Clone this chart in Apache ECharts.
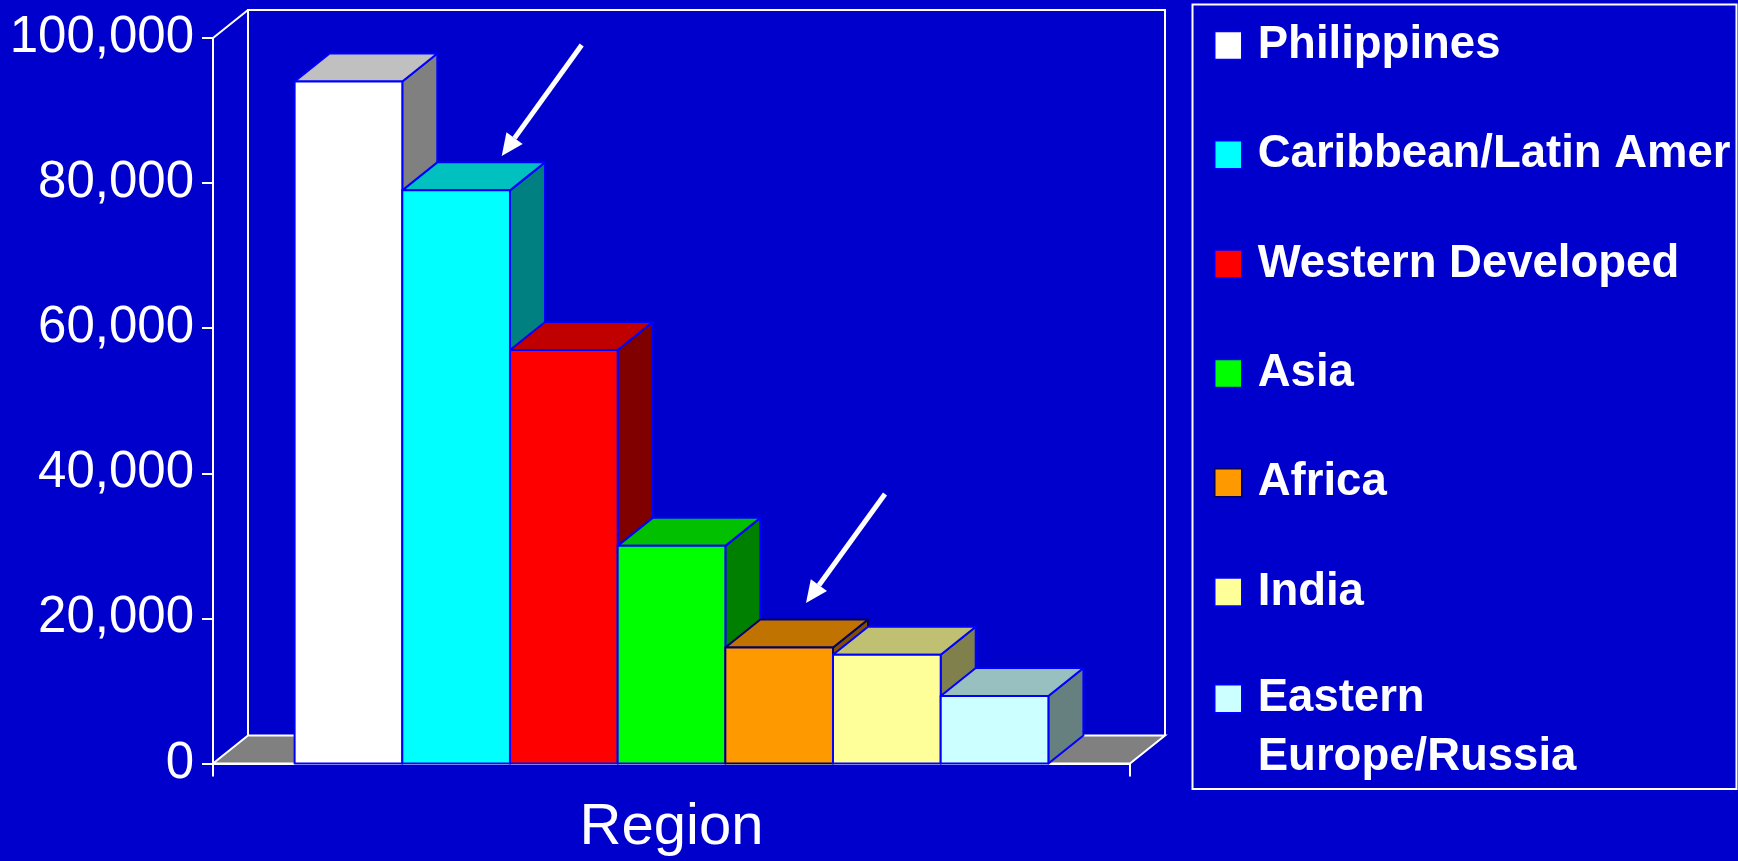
<!DOCTYPE html>
<html>
<head>
<meta charset="utf-8">
<script src="https://cdn.jsdelivr.net/npm/echarts@6/dist/echarts.min.js"></script>
<style>
html,body{margin:0;padding:0;background:#0000CC;}
#chart{width:1738px;height:861px;}
</style>
</head>
<body>
<div id="chart"></div>
<script>
// ---- data ----
const categories = ['Region'];
const regionNames = ['Philippines', 'Caribbean/Latin Amer', 'Western Developed', 'Asia', 'Africa', 'India', 'Eastern Europe/Russia'];
const regionValues = [94000, 79000, 57000, 30000, 16000, 15000, 9300];
const yTickValues = [0, 20000, 40000, 60000, 80000, 100000];

// ---- styles ----
const frontColors = ['#FFFFFF', '#00FFFF', '#FF0000', '#00FF00', '#FF9900', '#FFFF99', '#CCFFFF'];
const topColors   = ['#C0C0C0', '#00C0C0', '#C00000', '#00C000', '#C07300', '#C0C073', '#99C0C0'];
const sideColors  = ['#808080', '#008080', '#800000', '#008000', '#805000', '#80804D', '#668080'];
const edgeColors  = ['#0000FF', '#0000FF', '#0000FF', '#0000FF', '#000066', '#0000FF', '#0000FF'];

const DX = 35, DY = 28, CAT_GAP = 0.178;
const Y_MIN = yTickValues[0];
const Y_MAX = yTickValues[yTickValues.length - 1];
const Y_STEP = yTickValues[1] - yTickValues[0];
const BG = '#0000CC';

function makeBarRender(i) {
  return function (params, api) {
    const cat = api.value(0), val = api.value(1);
    const base = api.coord([cat, Y_MIN]);
    const top = api.coord([cat, val]);
    const band = api.size([1, 0])[0];
    const groupW = band * (1 - CAT_GAP);
    const barW = groupW / regionNames.length;
    const x0 = base[0] - groupW / 2 + i * barW, x1 = x0 + barW;
    const yb = base[1], yt = top[1];
    const edge = { stroke: edgeColors[i], lineWidth: 2, lineJoin: 'round' };
    return {
      type: 'group',
      children: [
        { type: 'polygon', shape: { points: [[x1, yt], [x1 + DX, yt - DY], [x1 + DX, yb - DY], [x1, yb]] },
          style: Object.assign({ fill: sideColors[i] }, edge) },
        { type: 'polygon', shape: { points: [[x0, yt], [x0 + DX, yt - DY], [x1 + DX, yt - DY], [x1, yt]] },
          style: Object.assign({ fill: topColors[i] }, edge) },
        { type: 'rect', shape: { x: x0, y: yt, width: barW, height: yb - yt },
          style: Object.assign({ fill: frontColors[i] }, edge) }
      ]
    };
  };
}

function renderFrame(params, api) {
  const cat = api.value(0);
  const b = api.coord([cat, Y_MIN]);
  const t = api.coord([cat, Y_MAX]);
  const band = api.size([1, 0])[0];
  const xl = b[0] - band / 2, xr = b[0] + band / 2, yb = b[1], yt = t[1];
  const white = { stroke: '#FFFFFF', lineWidth: 2, fill: null };
  return {
    type: 'group',
    children: [
      { type: 'polygon', shape: { points: [[xl, yb], [xl + DX, yb - DY], [xr + DX, yb - DY], [xr, yb]] },
        style: { fill: '#808080', stroke: '#FFFFFF', lineWidth: 2 } },
      { type: 'polyline', shape: { points: [[xl + DX, yb - DY], [xl + DX, yt - DY], [xr + DX, yt - DY], [xr + DX, yb - DY]] },
        style: white },
      { type: 'line', shape: { x1: xl, y1: yt, x2: xl + DX, y2: yt - DY }, style: white }
    ]
  };
}

function arrow(tail, tip) {
  const ang = Math.atan2(tip[1] - tail[1], tip[0] - tail[0]);
  const L = 22, W = 10;
  const bx = tip[0] - L * Math.cos(ang), by = tip[1] - L * Math.sin(ang);
  const px = -Math.sin(ang) * W, py = Math.cos(ang) * W;
  return {
    type: 'group', silent: true,
    children: [
      { type: 'line', shape: { x1: tail[0], y1: tail[1], x2: bx, y2: by }, style: { stroke: '#FFFFFF', lineWidth: 5 } },
      { type: 'polygon', shape: { points: [[tip[0], tip[1]], [bx + px, by + py], [bx - px, by - py]] }, style: { fill: '#FFFFFF' } }
    ]
  };
}

const legendText = {
  color: '#FFFFFF',
  fontFamily: "'Liberation Sans', Arial, sans-serif",
  fontWeight: 'bold',
  fontSize: 45.5,
  lineHeight: 59,
  padding: [10, 0, 0, 11]
};
const legendItem = (n) => {
  const i = regionNames.indexOf(n);
  return { name: n, itemStyle: { color: frontColors[i], borderColor: edgeColors[i], borderWidth: 1.5 } };
};

const series = [{
  type: 'custom', name: '_frame', silent: true, z: 1,
  renderItem: renderFrame, data: [[0, 0]], encode: { x: 0, y: 1 }
}];
regionNames.forEach((n, i) => {
  series.push({
    type: 'custom', name: n, z: 2,
    itemStyle: { color: frontColors[i] },
    renderItem: makeBarRender(i),
    data: [[0, regionValues[i]]],
    encode: { x: 0, y: 1 }
  });
});

const chart = echarts.init(document.getElementById('chart'));
chart.setOption({
  backgroundColor: BG,
  animation: false,
  grid: { left: 213, top: 38, width: 917, height: 725.5, containLabel: false },
  xAxis: {
    type: 'category', data: categories,
    axisLine: { show: true, lineStyle: { color: '#FFFFFF', width: 2 } },
    axisTick: { show: true, length: 13, lineStyle: { color: '#FFFFFF', width: 2 } },
    axisLabel: { color: '#FFFFFF', fontSize: 58, fontFamily: "'Liberation Sans', Arial, sans-serif", margin: 35 },
    splitLine: { show: false }
  },
  yAxis: {
    type: 'value', min: Y_MIN, max: Y_MAX, interval: Y_STEP,
    axisLine: { show: true, lineStyle: { color: '#FFFFFF', width: 2 } },
    axisTick: { show: true, length: 11, lineStyle: { color: '#FFFFFF', width: 2 } },
    axisLabel: {
      color: '#FFFFFF', fontSize: 51, fontFamily: "'Liberation Sans', Arial, sans-serif", margin: 19,
      formatter: (v) => v.toLocaleString('en-US')
    },
    splitLine: { show: false }
  },
  legend: [
    {
      orient: 'vertical', left: 1214, top: 11, padding: 0,
      itemWidth: 27, itemHeight: 28, itemGap: 40.3, icon: 'rect',
      selectedMode: false, textStyle: legendText,
      data: regionNames.slice(0, 6).map(legendItem)
    },
    {
      orient: 'vertical', left: 1214, top: 605.2, padding: 0,
      itemWidth: 27, itemHeight: 28, itemGap: 0, icon: 'rect',
      selectedMode: false, textStyle: legendText,
      formatter: (n) => '\n' + n.replace(' ', '\n'),
      data: regionNames.slice(6).map(legendItem)
    }
  ],
  graphic: [
    { type: 'rect', silent: true, shape: { x: 1192.5, y: 4.5, width: 544, height: 784.5 },
      style: { fill: null, stroke: '#FFFFFF', lineWidth: 2 } },
    arrow([581.7, 45], [501.7, 156]),
    arrow([885, 494], [806, 603])
  ],
  series: series
});
</script>
</body>
</html>
